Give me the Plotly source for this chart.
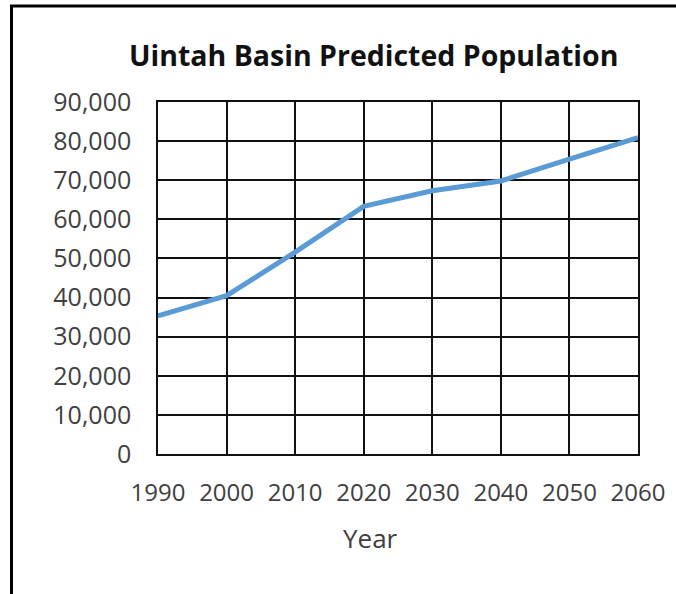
import plotly.graph_objects as go

# Projected population, Uintah Basin
years = [1990, 2000, 2010, 2020, 2030, 2040, 2050, 2060]
population = [35300, 40500, 51600, 63300, 67300, 69800, 75400, 80900]

chart_title = "Uintah Basin Predicted Population"
x_title = "Year"

W, H = 676, 594
L, R, T, B = 158, 38, 102, 140
plot_w = W - L - R
plot_h = H - T - B


def px_x(px):
    return (px - L) / plot_w


def px_y(py):
    return (H - B - py) / plot_h


font_family = "Open Sans, Liberation Sans, sans-serif"
tick_color = "#404040"

fig = go.Figure()
fig.add_trace(go.Scatter(
    x=years, y=population, mode="lines",
    line=dict(color="#5B9BD5", width=5),
    hoverinfo="x+y", showlegend=False,
))

fig.update_layout(
    width=W, height=H,
    margin=dict(l=L, r=R, t=T, b=B),
    paper_bgcolor="white", plot_bgcolor="white",
    font=dict(family=font_family, size=24, color=tick_color),
    xaxis=dict(
        range=[1990, 2060], tickmode="array", tickvals=years,
        ticktext=[str(y) for y in years],
        showgrid=True, gridcolor="#111111", gridwidth=1.5,
        showline=True, linecolor="#111111", linewidth=1.5, mirror=True,
        zeroline=False, ticks="", ticklabelstandoff=16,
        tickfont=dict(size=24, color=tick_color, family=font_family),
        fixedrange=True,
    ),
    yaxis=dict(
        range=[0, 90000], dtick=10000, tickformat=",",
        showgrid=True, gridcolor="#111111", gridwidth=1.5,
        showline=True, linecolor="#111111", linewidth=1.5, mirror=True,
        zeroline=False, ticks="", ticklabelstandoff=20,
        tickfont=dict(size=25, color=tick_color, family=font_family),
        fixedrange=True,
    ),
    annotations=[
        dict(text="<b>" + chart_title + "</b>", xref="paper", yref="paper",
             x=px_x(373), y=px_y(55), xanchor="center", yanchor="middle",
             showarrow=False,
             font=dict(size=28.5, color="#111111", family=font_family)),
        dict(text=x_title, xref="paper", yref="paper",
             x=px_x(370), y=px_y(538), xanchor="center", yanchor="middle",
             showarrow=False,
             font=dict(size=26, color=tick_color, family=font_family)),
    ],
    shapes=[
        dict(type="path", xref="paper", yref="paper",
             path=f"M {px_x(11.5)},{px_y(H + 5)} L {px_x(11.5)},{px_y(6)} L {px_x(W + 5)},{px_y(6)}",
             line=dict(color="black", width=3), layer="above"),
    ],
)

fig.write_html("out.html", config={"displayModeBar": False})
